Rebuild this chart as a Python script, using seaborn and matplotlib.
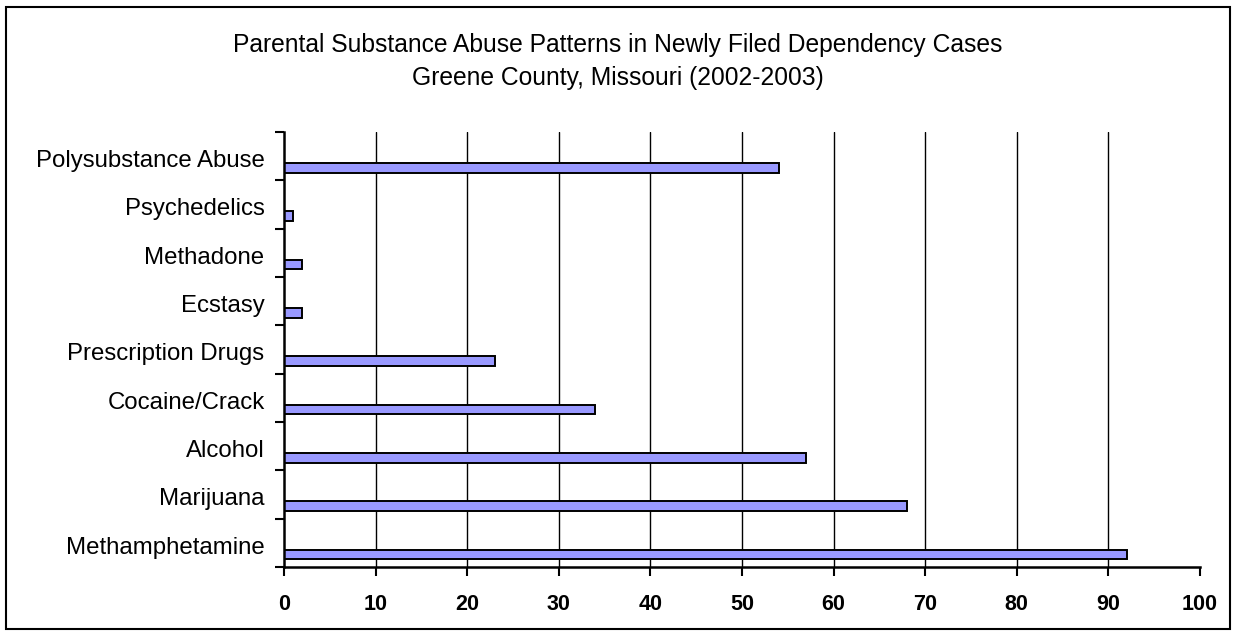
import matplotlib
matplotlib.use("Agg")
import matplotlib.pyplot as plt
from matplotlib.patches import Rectangle
import numpy as np
import pandas as pd
import seaborn as sns

# Substances, listed from the bottom of the chart to the top
substances = [
    "Methamphetamine",
    "Marijuana",
    "Alcohol",
    "Cocaine/Crack",
    "Prescription Drugs",
    "Ecstasy",
    "Methadone",
    "Psychedelics",
    "Polysubstance Abuse",
]
cases = [92, 68, 57, 34, 23, 2, 2, 1, 54]
x_ticks = [0, 10, 20, 30, 40, 50, 60, 70, 80, 90, 100]
title_lines = [
    "Parental Substance Abuse Patterns in Newly Filed Dependency Cases",
    "Greene County, Missouri (2002-2003)",
]

sns.set_style("white")
plt.rcParams["font.family"] = ["Liberation Sans", "DejaVu Sans"]
plt.rcParams["text.color"] = "black"
plt.rcParams["xtick.color"] = "black"
plt.rcParams["ytick.color"] = "black"
plt.rcParams["xtick.labelcolor"] = "black"
plt.rcParams["ytick.labelcolor"] = "black"

slot = np.arange(len(substances))
bar_offset = -0.24  # bars sit in the lower part of each category band
df = pd.DataFrame({"substance": substances, "cases": cases, "pos": slot + bar_offset})

fig = plt.figure(figsize=(12.35, 6.35), dpi=100)
ax = fig.add_axes([284 / 1235, 1 - 567 / 635, (1200 - 284) / 1235, (567 - 132) / 635])

sns.barplot(
    data=df, x="cases", y="pos", orient="y", native_scale=True,
    width=0.2, color="#9999FF", saturation=1,
    edgecolor="black", linewidth=1.4, ax=ax, zorder=3,
)

ax.set_xlim(0, 100)
ax.set_ylim(-0.5, len(substances) - 0.5)

# vertical gridlines
for v in x_ticks[1:-1]:
    ax.axvline(v, color="black", linewidth=1.0, zorder=1)

ax.set_xticks(x_ticks)
ax.set_xticklabels([str(t) for t in x_ticks], fontsize=15.5, fontweight="bold")
ax.tick_params(axis="x", bottom=True, direction="out", length=6.5, width=1.5,
               color="black", labelcolor="black", pad=13)

# band boundaries as major y ticks, category names as minor tick labels
ax.set_yticks(np.arange(len(substances) + 1) - 0.5)
ax.set_yticklabels([])
ax.set_yticks(slot - 0.05, minor=True)
ax.set_yticklabels(substances, minor=True, fontsize=17.3)
ax.tick_params(axis="y", which="major", left=True, direction="out", length=6.5,
               width=1.5, color="black")
ax.tick_params(axis="y", which="minor", left=True, length=0, pad=14, labelcolor="black")

ax.set_xlabel("")
ax.set_ylabel("")
for side in ("top", "right"):
    ax.spines[side].set_visible(False)
for side in ("left", "bottom"):
    ax.spines[side].set_color("black")
    ax.spines[side].set_linewidth(1.8)
    ax.spines[side].set_zorder(4)

fig.text(0.5, 1 - 45 / 635, title_lines[0], ha="center", va="center",
         fontsize=17.7, color="black")
fig.text(0.5, 1 - 78 / 635, title_lines[1], ha="center", va="center",
         fontsize=17.7, color="black")

# outer frame around the whole chart
fig.patches.append(Rectangle(
    (6 / 1235, 1 - 629 / 635), (1230 - 6) / 1235, (629 - 7) / 635,
    transform=fig.transFigure, fill=False, edgecolor="black", linewidth=1.5,
))

fig.savefig("out.png", dpi=100, facecolor="white")
